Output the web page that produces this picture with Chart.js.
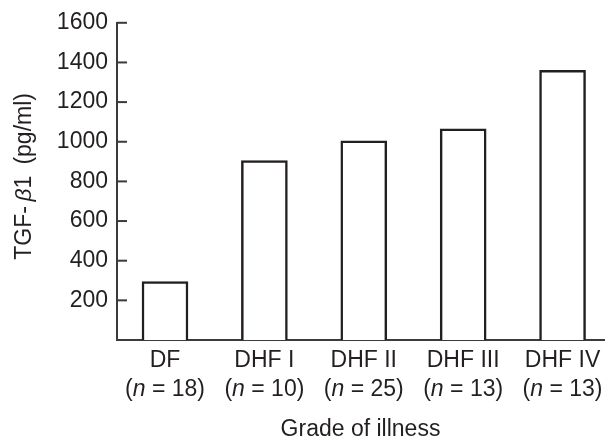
<!DOCTYPE html>
<html>
<head>
<meta charset="utf-8">
<script src="https://cdn.jsdelivr.net/npm/chart.js@4"></script>
<style>
  html, body { margin: 0; padding: 0; background: #fff; }
  #wrap { width: 609px; height: 443px; }
</style>
</head>
<body>
<div id="wrap"><canvas id="chart" width="609" height="443"></canvas></div>
<script>
// ── Data ─────────────────────────────────────────────
const categories = ["DF", "DHF I", "DHF II", "DHF III", "DHF IV"];
const sampleSizes = [18, 10, 25, 13, 13];
const tgfValues = [295, 905, 1005, 1065, 1360];
const yTickValues = [0, 200, 400, 600, 800, 1000, 1200, 1400, 1600];

// ── Style ────────────────────────────────────────────
const ink = "#231f20";
const axisInk = "#3c3a3b";
const fontFamily = '"Liberation Sans", Arial, Helvetica, sans-serif';
const fontSize = 23;
const lineHeightPx = 29;
const xTickPadding = 6;

// draw a run of text pieces, some italic, centred on (cx, cy)
function drawMixed(ctx, parts, cx, cy) {
  const fontFor = (p) => `${p.italic ? "italic " : ""}${fontSize}px ${fontFamily}`;
  let total = 0;
  parts.forEach((p) => {
    ctx.font = fontFor(p);
    p.w = ctx.measureText(p.text).width;
    total += p.w;
  });
  ctx.textBaseline = "middle";
  ctx.textAlign = "left";
  let x = cx - total / 2;
  parts.forEach((p) => {
    ctx.font = fontFor(p);
    ctx.fillText(p.text, x, cy);
    x += p.w;
  });
}

// inward y tick marks, "(n = ..)" lines and the y title
const axisDecor = {
  id: "axisDecor",
  afterDraw(chart) {
    const { ctx, chartArea, scales } = chart;
    const { x, y } = scales;
    ctx.save();
    ctx.strokeStyle = axisInk;
    ctx.lineWidth = 2;
    y.ticks.forEach((t) => {
      if (t.value === 0) return;
      const py = y.getPixelForValue(t.value);
      ctx.beginPath();
      ctx.moveTo(chartArea.left, py);
      ctx.lineTo(chartArea.left + 10, py);
      ctx.stroke();
    });

    ctx.fillStyle = ink;
    const nLineY = x.top + xTickPadding + lineHeightPx * 1.5;
    sampleSizes.forEach((n, i) => {
      drawMixed(
        ctx,
        [
          { text: "(", italic: false },
          { text: "n", italic: true },
          { text: ` = ${n})`, italic: false },
        ],
        x.getPixelForValue(i),
        nLineY,
      );
    });

    ctx.translate(25, (chartArea.top + chartArea.bottom) / 2 - 5);
    ctx.rotate(-Math.PI / 2);
    drawMixed(
      ctx,
      [
        { text: "TGF-\u2009", italic: false },
        { text: "\u03B2", italic: true },
        { text: "1\u2009 (pg/ml)", italic: false },
      ],
      0,
      0,
    );
    ctx.restore();
  },
};

new Chart(document.getElementById("chart"), {
  type: "bar",
  data: {
    datasets: [
      {
        label: "TGF-β1",
        data: tgfValues.map((v, i) => ({ x: i, y: v })),
        backgroundColor: "#ffffff",
        borderColor: ink,
        borderWidth: 2.5,
        borderSkipped: "start",
        barThickness: 46,
      },
    ],
  },
  options: {
    responsive: false,
    animation: false,
    layout: { padding: { top: 19, right: 5, left: 0, bottom: 0 } },
    plugins: {
      legend: { display: false },
      tooltip: { enabled: false },
    },
    scales: {
      x: {
        type: "linear",
        offset: false,
        min: -0.483,
        max: 4.417,
        grid: { display: false, drawTicks: false },
        border: { display: true, color: axisInk, width: 2 },
        afterBuildTicks: (s) => {
          s.ticks = categories.map((_, i) => ({ value: i }));
        },
        afterFit: (s) => {
          s.height = 103;
        },
        ticks: {
          autoSkip: false,
          maxRotation: 0,
          padding: xTickPadding,
          color: ink,
          font: { family: fontFamily, size: fontSize, lineHeight: lineHeightPx / fontSize },
          callback: (v) => [categories[v], ""],
        },
        title: {
          display: true,
          text: "Grade of illness",
          color: ink,
          padding: { top: 0, bottom: 0 },
          font: { family: fontFamily, size: fontSize },
        },
      },
      y: {
        min: 0,
        max: 1600,
        grid: { display: false, drawTicks: false },
        border: { display: true, color: axisInk, width: 2 },
        afterBuildTicks: (s) => {
          s.ticks = yTickValues.map((v) => ({ value: v }));
        },
        afterFit: (s) => {
          s.width = 117;
        },
        ticks: {
          padding: 9,
          color: ink,
          font: { family: fontFamily, size: fontSize },
          callback: (v) => (v === 0 ? "" : v),
        },
      },
    },
  },
  plugins: [axisDecor],
});
</script>
</body>
</html>
